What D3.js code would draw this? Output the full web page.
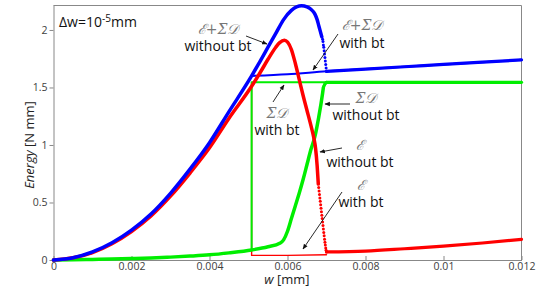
<!DOCTYPE html>
<html>
<head>
<meta charset="utf-8">
<script src="https://cdn.jsdelivr.net/npm/d3@7"></script>
<style>
  body { margin: 0; background: #fff; }
  svg { display: block; font-family: "Open Sans", sans-serif; }
</style>
</head>
<body>
<div id="chart"></div>
<script>
"use strict";

// tick labels
const xTicks = [0, 0.002, 0.004, 0.006, 0.008, 0.01, 0.012];
const yTicks = [0, 0.5, 1, 1.5, 2];

// common rising part (same with and without bt)
const riseW       = [0, 0.0005, 0.001, 0.0015, 0.002, 0.0025, 0.003, 0.0035, 0.004, 0.0045, 0.00508];
const totalRise   = [0, 0.02, 0.07, 0.15, 0.26, 0.40, 0.58, 0.79, 1.02, 1.29, 1.60];
const elasticRise = [0, 0.019, 0.065, 0.142, 0.248, 0.383, 0.555, 0.756, 0.975, 1.232, 1.51];
const dissRise    = [0, 0.002, 0.005, 0.008, 0.012, 0.017, 0.025, 0.034, 0.045, 0.062, 0.087];

// E + sum D, without bt
const totalNoBtW = [0.00508, 0.0053, 0.0055, 0.0057, 0.0059, 0.0061, 0.00636, 0.0065, 0.0066, 0.0067, 0.00676, 0.0068, 0.00684, 0.00688];
const totalNoBt  = [1.60, 1.73, 1.85, 1.97, 2.09, 2.17, 2.21, 2.20, 2.18, 2.14, 2.09, 2.04, 1.99, 1.94];
const totalDotW  = [0.0069, 0.00691, 0.00692, 0.00693, 0.00694, 0.00695, 0.00696, 0.00697, 0.00698, 0.00699, 0.007];
const totalDot   = [1.92, 1.90, 1.87, 1.85, 1.82, 1.79, 1.76, 1.73, 1.70, 1.67, 1.64];

// E, without bt
const elasticNoBtW = [0.00508, 0.0053, 0.0055, 0.0057, 0.0058, 0.00592, 0.0061, 0.0062, 0.0063, 0.0064, 0.0065, 0.0066, 0.00667, 0.00672, 0.00676, 0.00679];
const elasticNoBt  = [1.51, 1.63, 1.745, 1.85, 1.89, 1.91, 1.83, 1.71, 1.57, 1.43, 1.30, 1.17, 1.07, 0.97, 0.82, 0.66];
const elasticDotW  = [0.0068, 0.00681, 0.00682, 0.00683, 0.00684, 0.00685, 0.00686, 0.00687, 0.00688, 0.00689, 0.0069, 0.00691, 0.00692, 0.00693, 0.00694, 0.00695, 0.00696, 0.00697, 0.00698, 0.00699, 0.007];
const elasticDot   = [0.63, 0.60, 0.57, 0.54, 0.51, 0.48, 0.45, 0.42, 0.39, 0.36, 0.33, 0.30, 0.27, 0.24, 0.21, 0.18, 0.155, 0.13, 0.105, 0.085, 0.07];

// sum D, without bt
const dissNoBtW = [0.00508, 0.0055, 0.0058, 0.0059, 0.006, 0.0061, 0.0062, 0.0063, 0.0064, 0.0065, 0.0066, 0.0067, 0.0068, 0.0069, 0.00692];
const dissNoBt  = [0.087, 0.115, 0.145, 0.175, 0.25, 0.36, 0.47, 0.58, 0.70, 0.83, 0.96, 1.07, 1.24, 1.45, 1.50];
const dissDotW  = [0.00693, 0.00694, 0.00695, 0.00696, 0.00697, 0.00698, 0.00699, 0.007];
const dissDot   = [1.51, 1.52, 1.525, 1.53, 1.535, 1.54, 1.543, 1.545];

// with bt (after the jump at w = 0.00508)
const totalBtW   = [0.00508, 0.006, 0.007, 0.008, 0.009, 0.01, 0.011, 0.012];
const totalBt    = [1.60, 1.615, 1.64, 1.66, 1.68, 1.70, 1.72, 1.74];
const elasticBtW = [0.00508, 0.00508, 0.006, 0.007];
const elasticBt  = [1.51, 0.04, 0.04, 0.045];
const dissBtW    = [0.00508, 0.00508, 0.012];
const dissBt     = [0.087, 1.545, 1.545];

// tail, w > 0.007 (both cases coincide)
const tailW        = [0.007, 0.008, 0.009, 0.01, 0.011, 0.012];
const elasticTail  = [0.07, 0.078, 0.098, 0.12, 0.148, 0.18];
const dissTail     = [1.545, 1.545, 1.545, 1.545, 1.545, 1.545];
const totalTail    = [1.64, 1.66, 1.68, 1.70, 1.72, 1.74];

const BLUE = "#0000ff", RED = "#ff0000", GREEN = "#00ee00";

const W = 539, H = 288;
const margin = {top: 5, right: 17.5, bottom: 28, left: 53.5};
const width = W - margin.left - margin.right;
const height = H - margin.top - margin.bottom;

const svg = d3.select("#chart").append("svg")
    .attr("width", W).attr("height", H);

const g = svg.append("g")
    .attr("transform", "translate(" + margin.left + "," + margin.top + ")");

const x = d3.scaleLinear().domain([0, 0.012]).range([0, width]);
const y = d3.scaleLinear().domain([0, 2.217]).range([height, 0]);

const zip = (ws, es) => ws.map((w, i) => [w, es[i]]);

const smooth = d3.line().x(d => x(d[0])).y(d => y(d[1])).curve(d3.curveMonotoneX);
const straight = d3.line().x(d => x(d[0])).y(d => y(d[1]));

function drawLine(data, color, w, gen) {
    g.append("path")
        .attr("d", (gen || smooth)(data))
        .attr("fill", "none")
        .attr("stroke", color)
        .attr("stroke-width", w)
        .attr("stroke-linejoin", "round")
        .attr("stroke-linecap", "round");
}

function drawDots(data, color) {
    g.append("g").selectAll("circle")
        .data(data).join("circle")
        .attr("cx", d => x(d[0]))
        .attr("cy", d => y(d[1]))
        .attr("r", 1.5)
        .attr("fill", color);
}

// axes
const xAxis = g.append("g")
    .attr("transform", "translate(0," + height + ")")
    .call(d3.axisBottom(x).tickValues(xTicks).tickSizeInner(-4).tickSizeOuter(0).tickPadding(3)
        .tickFormat(d => String(+d.toFixed(3))));
const yAxis = g.append("g")
    .call(d3.axisLeft(y).tickValues(yTicks).tickSizeInner(4).tickSizeOuter(0).tickPadding(2)
        .tickFormat(d => String(d)));

[xAxis, yAxis].forEach(a => {
    a.selectAll("path, line").attr("stroke", "#888");
    a.selectAll("text").attr("fill", "#404040")
        .style("font-size", "10.5px").style("font-family", "'Open Sans', sans-serif");
});

// frame top/right
g.append("path")
    .attr("d", "M0,0.5H" + width + "V" + height)
    .attr("fill", "none").attr("stroke", "#888");

// with bt (thin)
drawLine(zip(elasticBtW, elasticBt), RED, 1.4, straight);
drawLine(zip(dissBtW, dissBt), GREEN, 2, straight);
drawLine(zip(totalBtW, totalBt), BLUE, 2, smooth);

// tails
drawLine(zip(tailW, dissTail), GREEN, 3.2);
drawLine(zip(tailW, elasticTail), RED, 3.2);
drawLine(zip(tailW, totalTail), BLUE, 3.2);

// without bt (thick)
drawLine(zip(riseW, dissRise).concat(zip(dissNoBtW, dissNoBt).slice(1)), GREEN, 3.5);
drawDots(zip(dissDotW, dissDot), GREEN);
drawLine(zip(riseW, elasticRise).concat(zip(elasticNoBtW, elasticNoBt).slice(1)), RED, 3.5);
drawDots(zip(elasticDotW, elasticDot), RED);
drawLine(zip(riseW, totalRise).concat(zip(totalNoBtW, totalNoBt).slice(1)), BLUE, 3.5);
drawDots(zip(totalDotW, totalDot), BLUE);

// axis labels
const yl = svg.append("text")
    .attr("transform", "translate(34," + (margin.top + 140) + ") rotate(-90)")
    .attr("text-anchor", "middle")
    .attr("fill", "#222")
    .style("font-size", "13px");
yl.append("tspan").attr("font-style", "italic").text("Energy");
yl.append("tspan").text(" [N mm]");

const xl = svg.append("text")
    .attr("x", 287).attr("y", 284)
    .attr("text-anchor", "middle")
    .attr("fill", "#222")
    .style("font-size", "13px");
xl.append("tspan").attr("font-style", "italic").text("w");
xl.append("tspan").text(" [mm]");

// step size note
const dw = svg.append("text")
    .attr("x", 59).attr("y", 27)
    .attr("fill", "#111")
    .style("font-size", "14px");
dw.append("tspan").text("\u0394w=10");
dw.append("tspan").attr("dy", -5).style("font-size", "10px").text("-5");
dw.append("tspan").attr("dy", 5).text("mm");

// annotations
const notes = [
    {sym: "\u2130+\u03A3\uD835\uDC9F", txt: "without bt", cx: 218, sy: 34, ty: 51, a: [[246, 36], [267, 44]]},
    {sym: "\u2130+\u03A3\uD835\uDC9F", txt: "with bt", cx: 362, sy: 30, ty: 48, a: [[338, 34], [313, 70]]},
    {sym: "\u03A3\uD835\uDC9F", txt: "with bt", cx: 277, sy: 118, ty: 135, a: [[273, 102], [284, 85]]},
    {sym: "\u03A3\uD835\uDC9F", txt: "without bt", cx: 366, sy: 103, ty: 120, a: [[350, 104], [325, 104]]},
    {sym: "\u2130", txt: "without bt", cx: 360, sy: 150, ty: 167, a: [[342, 148], [320, 152]]},
    {sym: "\u2130", txt: "with bt", cx: 361, sy: 190, ty: 207, a: [[342, 192], [303, 249]]}
];

svg.append("defs").append("marker")
    .attr("id", "arr").attr("viewBox", "0 0 10 10")
    .attr("refX", 9).attr("refY", 5)
    .attr("markerWidth", 6).attr("markerHeight", 6)
    .attr("orient", "auto")
  .append("path").attr("d", "M0,1L10,5L0,9Z").attr("fill", "#111");

notes.forEach(n => {
    svg.append("text")
        .attr("x", n.cx).attr("y", n.sy)
        .attr("text-anchor", "middle")
        .attr("fill", "#777")
        .style("font-family", "'DejaVu Serif', serif")
        .style("font-style", "italic")
        .style("font-size", "14px")
        .text(n.sym);
    svg.append("text")
        .attr("x", n.cx).attr("y", n.ty)
        .attr("text-anchor", "middle")
        .attr("fill", "#111")
        .style("font-size", "14px")
        .text(n.txt);
    svg.append("line")
        .attr("x1", n.a[0][0]).attr("y1", n.a[0][1])
        .attr("x2", n.a[1][0]).attr("y2", n.a[1][1])
        .attr("stroke", "#111").attr("stroke-width", 0.9)
        .attr("marker-end", "url(#arr)");
});
</script>
</body>
</html>
